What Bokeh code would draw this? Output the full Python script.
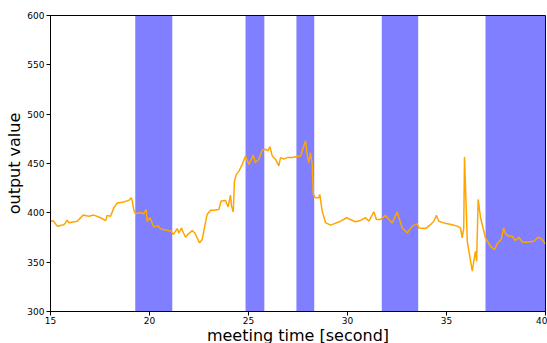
from bokeh.plotting import figure
from bokeh.embed import file_html
from bokeh.resources import INLINE
from bokeh.models import FixedTicker, Range1d

# Shaded meeting intervals [second]
band_start = [19.28, 24.85, 27.42, 31.73, 36.97]
band_end = [21.15, 25.80, 28.32, 33.57, 40.00]

# Output value over meeting time
time_s = [15.00, 15.14, 15.34, 15.67, 15.76, 15.84, 15.92, 16.35, 16.65, 16.93,
          17.19, 17.53, 17.78, 17.86, 18.03, 18.20, 18.37, 18.70, 18.95, 19.08,
          19.13, 19.21, 19.29, 19.55, 19.71, 19.83, 19.88, 20.02, 20.22, 20.42,
          20.56, 20.89, 21.10, 21.20, 21.40, 21.48, 21.62, 21.70, 21.82, 21.98,
          22.16, 22.29, 22.53, 22.66, 22.91, 23.08, 23.25, 23.50, 23.62, 23.84,
          23.97, 24.09, 24.14, 24.23, 24.29, 24.39, 24.51, 24.68, 24.85, 25.02,
          25.24, 25.35, 25.52, 25.69, 25.86, 25.98, 26.08, 26.20, 26.36, 26.53,
          26.62, 26.78, 26.95, 27.21, 27.46, 27.63, 27.76, 27.88, 27.97, 28.05,
          28.13, 28.22, 28.27, 28.38, 28.55, 28.60, 28.72, 28.89, 29.14, 29.31,
          29.65, 29.95, 30.15, 30.40, 30.66, 30.91, 31.08, 31.33, 31.46, 31.67,
          31.92, 32.09, 32.26, 32.51, 32.76, 33.02, 33.27, 33.52, 33.60, 33.94,
          34.19, 34.36, 34.49, 34.61, 34.86, 35.29, 35.54, 35.71, 35.79, 35.87,
          35.91, 36.05, 36.30, 36.46, 36.52, 36.60, 36.72, 36.97, 37.22, 37.42,
          37.58, 37.76, 37.89, 37.98, 38.15, 38.32, 38.48, 38.65, 38.82, 39.07,
          39.41, 39.63, 39.83, 40.00]
output_value = [391.5, 392.0, 386.5, 388.0, 390.0, 392.5, 390.0, 391.5, 397.7, 396.6,
                397.7, 395.0, 392.0, 397.4, 396.6, 405.0, 410.0, 411.0, 412.6, 415.3,
                412.0, 402.4, 399.4, 400.0, 399.0, 403.4, 391.5, 395.0, 385.5, 387.0,
                383.7, 382.4, 381.4, 378.0, 384.0, 379.6, 384.7, 380.3, 375.3, 379.0,
                382.0, 379.6, 369.5, 373.0, 398.4, 402.7, 402.7, 403.4, 412.0, 412.6,
                406.0, 418.0, 406.8, 401.0, 432.3, 439.0, 442.0, 449.0, 457.7, 449.0,
                458.5, 451.0, 454.4, 463.5, 464.5, 462.8, 467.0, 457.7, 454.4, 447.6,
                456.0, 454.4, 456.0, 456.0, 457.0, 457.7, 466.0, 473.0, 457.7, 451.0,
                461.0, 449.0, 418.7, 415.3, 415.3, 418.7, 402.0, 390.0, 387.5, 388.8,
                391.5, 395.0, 393.3, 391.0, 392.3, 395.0, 391.5, 401.0, 393.3, 393.3,
                397.4, 393.3, 389.8, 401.0, 384.7, 379.6, 386.5, 388.8, 384.7, 384.0,
                388.0, 391.5, 397.4, 391.5, 389.8, 388.0, 386.5, 384.7, 374.5, 384.0,
                456.7, 371.0, 341.0, 361.0, 351.0, 413.6, 395.0, 374.5, 366.0, 362.7,
                369.5, 373.0, 384.7, 378.6, 376.3, 376.3, 371.9, 375.3, 370.5, 370.2,
                371.2, 375.3, 373.0, 368.5]

x_ticks = [15, 20, 25, 30, 35, 40]
y_ticks = [300, 350, 400, 450, 500, 550, 600]

FONT = "DejaVu Sans"

p = figure(width=547, height=347, output_backend="svg", toolbar_location=None,
           x_range=Range1d(15, 40), y_range=Range1d(300, 600),
           min_border_top=15, min_border_right=2, min_border_left=50, min_border_bottom=0)

p.quad(left=band_start, right=band_end, bottom=300, top=600,
       fill_color="blue", fill_alpha=0.5, line_color=None)
p.line(time_s, output_value, line_color="orange", line_width=1.5)

p.xgrid.visible = False
p.ygrid.visible = False
p.outline_line_color = "black"
p.outline_line_width = 1
p.outline_line_alpha = 1

p.xaxis.ticker = FixedTicker(ticks=x_ticks)
p.yaxis.ticker = FixedTicker(ticks=y_ticks)
p.xaxis.axis_label = "meeting time [second]"
p.yaxis.axis_label = "output value"

for ax in (p.xaxis[0], p.yaxis[0]):
    ax.axis_line_color = "black"
    ax.major_tick_line_color = "black"
    ax.minor_tick_line_color = None
    ax.major_tick_in = 0
    ax.major_tick_out = 4
    ax.major_label_standoff = 2
    ax.axis_label_standoff = 0
    ax.major_label_text_font = FONT
    ax.major_label_text_font_size = "9px"
    ax.major_label_text_color = "black"
    ax.axis_label_text_font = FONT
    ax.axis_label_text_font_size = "16px"
    ax.axis_label_text_font_style = "normal"
    ax.axis_label_text_color = "black"

p.xaxis[0].major_label_standoff = 1
p.xaxis[0].axis_label_standoff = -1

open("out.html", "w").write(file_html(p, INLINE))
